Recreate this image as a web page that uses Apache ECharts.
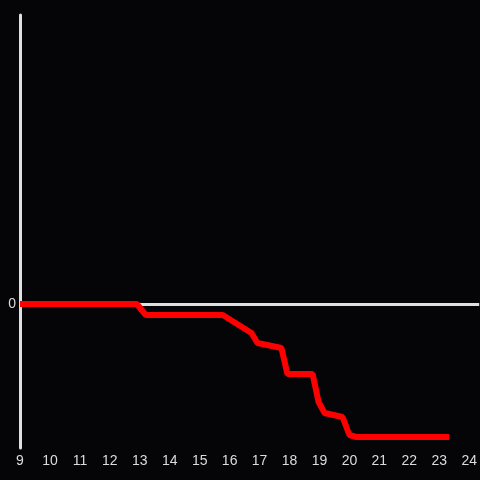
<!DOCTYPE html>
<html>
<head>
<meta charset="utf-8">
<script src="https://cdn.jsdelivr.net/npm/echarts@6/dist/echarts.min.js"></script>
<style>
  html, body { margin: 0; padding: 0; background: #050407; }
  #chart_container { width: 480px; height: 480px; }
</style>
</head>
<body>
<div id="chart_container"></div>
<script>
// series points: [x, y]
var xValues = [9, 12.9, 13.2, 15.77, 16.73, 16.93, 17.73, 17.93, 18.77, 18.97, 19.17, 19.77, 20.0, 20.23, 23.33];
var yValues = [0, 0, -11, -11, -29, -39, -44, -70, -70, -98, -109, -113, -131, -133, -133];
var zeroLevel = 0;

var chartDom = document.getElementById('chart_container');
var myChart = echarts.init(chartDom);

var lineData = [];
for (let i = 0; i < xValues.length; i++) {
    lineData.push([xValues[i], yValues[i]]);
}

var option = {
    backgroundColor: '#050407',
    animation: false,
    grid: {
        left: 20,
        right: 0,
        top: 15,
        bottom: 32,
        containLabel: false
    },
    xAxis: {
        type: 'value',
        min: 9,
        max: 24 + 1 / 3,
        interval: 1,
        axisLine: { show: false, onZero: false },
        axisTick: { show: false },
        splitLine: { show: false },
        axisLabel: {
            showMaxLabel: false,
            color: '#dcdcdc',
            fontSize: 14,
            margin: 6,
            fontFamily: 'Liberation Sans, Arial, sans-serif'
        }
    },
    yAxis: {
        type: 'value',
        min: -144,
        max: 289,
        interval: 144,
        axisLine: { show: true, lineStyle: { color: '#e0e0e0', width: 3 } },
        axisTick: { show: false },
        splitLine: { show: false },
        axisLabel: {
            showMinLabel: false,
            showMaxLabel: false,
            color: '#dcdcdc',
            fontSize: 14,
            margin: 4,
            fontFamily: 'Liberation Sans, Arial, sans-serif',
            formatter: function (v) {
                return v === 0 ? '0' : '';
            }
        }
    },
    series: [
        {
            type: 'line',
            data: lineData,
            showSymbol: false,
            symbol: 'none',
            lineStyle: { color: '#ff0000', width: 6 },
            z: 3,
            markLine: {
                silent: true,
                symbol: 'none',
                label: { show: false },
                lineStyle: { color: '#e0e0e0', width: 3, type: 'solid' },
                data: [{ yAxis: zeroLevel }],
                z: 1
            }
        }
    ]
};

myChart.setOption(option);
</script>
</body>
</html>
